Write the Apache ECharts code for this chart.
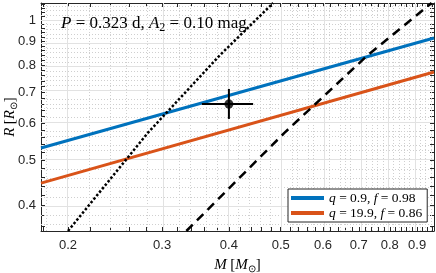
<!DOCTYPE html>
<html><head><meta charset="utf-8">
<script src="https://cdn.jsdelivr.net/npm/echarts@6/dist/echarts.min.js"></script>
<style>html,body{margin:0;padding:0;background:#fff}#c{width:436px;height:273px}</style>
</head><body><div id="c"></div>
<script>
const xRange = [0.178, 0.968];
const yRange = [0.352, 1.088];
const xMajor = [0.2, 0.3, 0.4, 0.5, 0.6, 0.7, 0.8, 0.9];
const yMajor = [0.4, 0.5, 0.6, 0.7, 0.8, 0.9, 1];
const xMinor = [0.18, 0.22, 0.24, 0.26, 0.28, 0.32, 0.34, 0.36, 0.38, 0.42, 0.44, 0.46, 0.48,
  0.52, 0.54, 0.56, 0.58, 0.62, 0.64, 0.66, 0.68, 0.72, 0.74, 0.76, 0.78, 0.82, 0.84, 0.86, 0.88,
  0.92, 0.94, 0.96];
const yMinor = [0.36, 0.38, 0.42, 0.44, 0.46, 0.48, 0.52, 0.54, 0.56, 0.58, 0.62, 0.64, 0.66, 0.68,
  0.72, 0.74, 0.76, 0.78, 0.82, 0.84, 0.86, 0.88, 0.92, 0.94, 0.96, 0.98, 1.02, 1.04, 1.06, 1.08];

const blueM = [0.178, 0.968];
const blueR = [0.531, 0.915];
const orangeM = [0.178, 0.968];
const orangeR = [0.446, 0.773];
const dotM = [0.2, 0.282, 0.385, 0.484];
const dotR = [0.352, 0.572, 0.841, 1.088];
const dashM = [0.333, 0.508, 0.728, 0.958];
const dashR = [0.352, 0.572, 0.841, 1.088];
const pointM = 0.40, pointR = 0.66;
const errM = [0.356, 0.444];
const errR = [0.613, 0.711];

const L = Math.log10;
const pairs = (a, b) => a.map((v, i) => [L(v), L(b[i])]);
const fmt = v => String(Math.round(Math.pow(10, v) * 100) / 100);
const FS = 'Liberation Serif';
const SANS = 'Liberation Sans';
const axCol = '#262626';
const xTicks = xMajor.concat(xMinor).map(L);
const yTicks = yMajor.concat(yMinor).map(L);

function xAx(pos, labels) {
  return {
    type: 'value', position: pos, min: L(xRange[0]), max: L(xRange[1]),
    axisLine: { show: true, onZero: false, lineStyle: { color: axCol, width: 1 } },
    axisTick: { show: true, inside: true, length: 4, customValues: xTicks, lineStyle: { color: axCol } },
    axisLabel: { show: labels, customValues: xMajor.map(L), formatter: fmt, fontFamily: SANS, fontSize: 13, color: axCol, margin: 8 },
    splitLine: { show: false }
  };
}
function yAx(pos, labels) {
  return {
    type: 'value', position: pos, min: L(yRange[0]), max: L(yRange[1]),
    axisLine: { show: true, onZero: false, lineStyle: { color: axCol, width: 1 } },
    axisTick: { show: true, inside: true, length: 4, customValues: yTicks, lineStyle: { color: axCol } },
    axisLabel: { show: labels, customValues: yMajor.map(L), formatter: fmt, fontFamily: SANS, fontSize: 13, color: axCol, margin: 5 },
    splitLine: { show: false }
  };
}

const xAxes = [xAx('bottom', true), xAx('top', false)];
const yAxes = [yAx('left', true), yAx('right', false)];
const rich = {
  i: { fontFamily: FS, fontStyle: 'italic', fontSize: 15, color: '#000' },
  n: { fontFamily: FS, fontSize: 15, color: '#000' },
  s: { fontFamily: FS, fontSize: 10, color: '#000', padding: [7, 0, 0, 0] }
};
xAxes[0].name = '{i|M} {n|[}{i|M}{s|⊙}{n|]}';
xAxes[0].nameLocation = 'middle';
xAxes[0].nameGap = 26;
xAxes[0].nameMoveOverlap = false;
xAxes[0].nameTextStyle = { rich: rich };
yAxes[0].name = '{i|R} {n|[}{i|R}{s|⊙}{n|]}';
yAxes[0].nameLocation = 'middle';
yAxes[0].nameGap = 22;
yAxes[0].nameMoveOverlap = false;
yAxes[0].nameTextStyle = { rich: rich };

const gridLines = [];
xMinor.forEach(v => gridLines.push({ xAxis: L(v), lineStyle: { color: '#cfcfcf', type: [1, 2], width: 1 } }));
yMinor.forEach(v => gridLines.push({ yAxis: L(v), lineStyle: { color: '#cfcfcf', type: [1, 2], width: 1 } }));
xMajor.forEach(v => gridLines.push({ xAxis: L(v), lineStyle: { color: '#e2e2e2', type: 'solid', width: 1 } }));
yMajor.forEach(v => gridLines.push({ yAxis: L(v), lineStyle: { color: '#e2e2e2', type: 'solid', width: 1 } }));

const chart = echarts.init(document.getElementById('c'), null, { renderer: 'canvas' });
chart.setOption({
  animation: false,
  backgroundColor: '#fff',
  grid: { left: 41, right: 2, top: 3, bottom: 42, containLabel: false, outerBoundsMode: 'none' },
  graphic: [{
    type: 'text', left: 61, top: 15, z: 10,
    style: {
      text: '{i|P}{n| = 0.323 d, }{i|A}{s|2}{n| = 0.10 mag}',
      fill: '#000', font: '17px "Liberation Serif"',
      rich: {
        i: { fontFamily: FS, fontStyle: 'italic', fontSize: 17, fill: '#000' },
        n: { fontFamily: FS, fontSize: 17, fill: '#000' },
        s: { fontFamily: FS, fontSize: 12, fill: '#000', padding: [8, 0, 0, 0] }
      }
    }
  }],
  legend: {
    left: 288, top: 189, orient: 'vertical',
    data: ['blue', 'orange'],
    backgroundColor: '#fff', borderColor: axCol, borderWidth: 1, borderRadius: 0,
    padding: [2, 5, 2, 3], itemGap: 1, itemWidth: 33, itemHeight: 4, icon: 'rect',
    textStyle: { fontFamily: FS, fontSize: 13.5, color: '#000',
      rich: { i: { fontFamily: FS, fontStyle: 'italic', fontSize: 13.5, color: '#000' }, n: { fontFamily: FS, fontSize: 13.5, color: '#000' } } },
    formatter: n => n === 'blue' ? '{i|q}{n| = 0.9, }{i|f}{n| = 0.98}' : '{i|q}{n| = 19.9, }{i|f}{n| = 0.86}'
  },
  xAxis: xAxes,
  yAxis: yAxes,
  series: [
    { name: 'grid', type: 'line', data: [], silent: true,
      markLine: { silent: true, symbol: ['none', 'none'], label: { show: false }, z: 1, animation: false, data: gridLines } },
    { name: 'blue', type: 'line', data: pairs(blueM, blueR), showSymbol: false, z: 3,
      itemStyle: { color: '#0072BD' }, lineStyle: { color: '#0072BD', width: 3 } },
    { name: 'orange', type: 'line', data: pairs(orangeM, orangeR), showSymbol: false, z: 3,
      itemStyle: { color: '#D95319' }, lineStyle: { color: '#D95319', width: 3 } },
    { name: 'dotted', type: 'line', data: pairs(dotM, dotR), showSymbol: false, z: 3,
      lineStyle: { color: '#000', width: 2.5, type: [2.5, 2] } },
    { name: 'dashed', type: 'line', data: pairs(dashM, dashR), showSymbol: false, z: 3,
      lineStyle: { color: '#000', width: 2.5, type: [9, 6] } },
    { name: 'errx', type: 'line', data: pairs(errM, [pointR, pointR]), showSymbol: false, z: 4,
      lineStyle: { color: '#000', width: 2 } },
    { name: 'erry', type: 'line', data: pairs([pointM, pointM], errR), showSymbol: false, z: 4,
      lineStyle: { color: '#000', width: 2 } },
    { name: 'pt', type: 'scatter', data: pairs([pointM], [pointR]), symbolSize: 9, z: 5,
      itemStyle: { color: '#000' } }
  ]
});
</script>
</body></html>
